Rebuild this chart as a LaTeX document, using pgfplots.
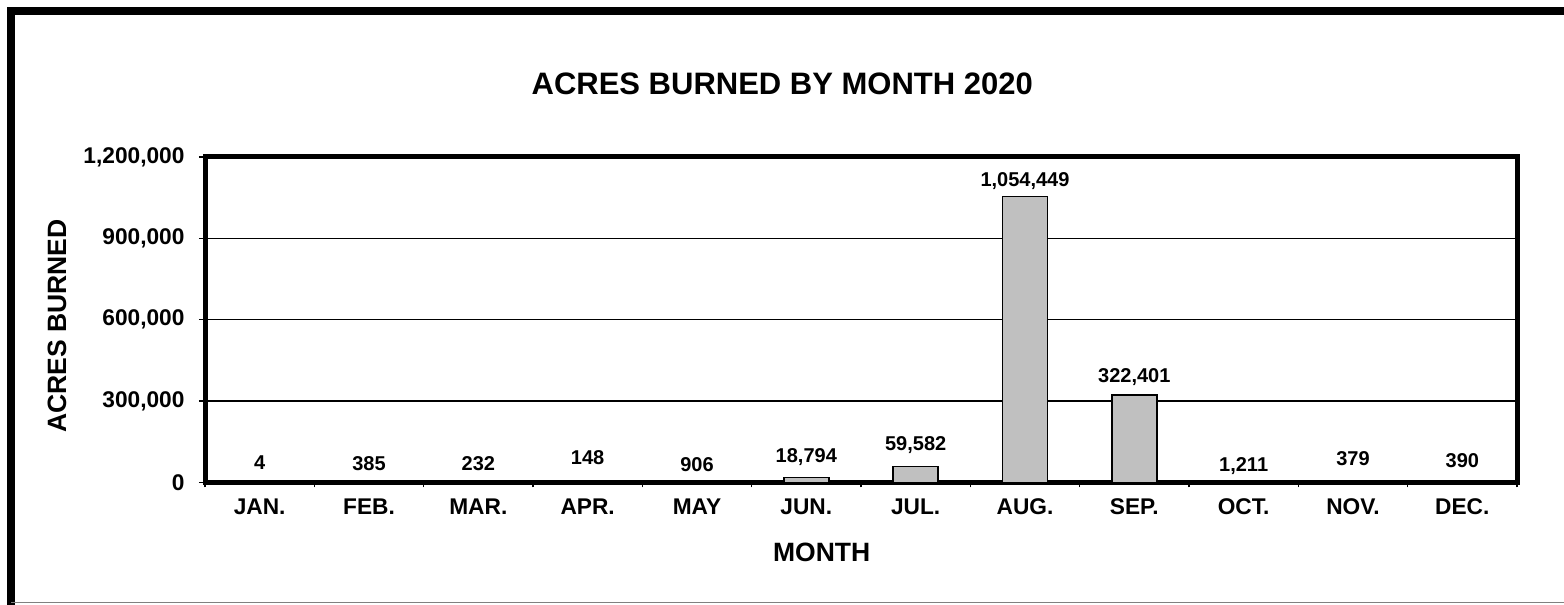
\documentclass[border=0pt]{standalone}
\usepackage{pgfplots}
\usepackage{pgfplotstable}
\pgfplotsset{compat=1.18}
\usepackage{fontspec}
\setmainfont{Liberation Sans}
\definecolor{barfill}{RGB}{192,192,192}

\pgfplotstableread{
x y lab dy
1 4 4 19.5
2 385 385 18.4
3 232 232 18.4
4 148 148 24.5
5 906 906 17.3
6 18794 18,794 20.4
7 59582 59,582 21.3
8 1054449 1,054,449 15.8
9 322401 322,401 18
10 1211 1,211 16.2
11 379 379 23.4
12 390 390 21.4
}\acres

\begin{document}
\begin{tikzpicture}
\useasboundingbox (0pt,0pt) rectangle (1564pt,605pt);
\draw[line width=8pt, line join=miter] (11pt,-5pt) -- (11pt,594pt) -- (1575pt,594pt);
\draw[gray, line width=1pt] (11pt,2pt) -- (1564pt,2pt);
\begin{axis}[
  at={(205pt,122.5pt)}, anchor=south west,
  scale only axis,
  width=1312pt, height=325.5pt,
  xmin=0.5, xmax=12.5,
  ymin=0, ymax=1200000,
  ybar, bar width=45pt,
  clip=false,
  xtick=data,
  xticklabels={JAN.,FEB.,MAR.,APR.,MAY,JUN.,JUL.,AUG.,SEP.,OCT.,NOV.,DEC.},
  minor xtick={0.5,1.5,...,12.5},
  major x tick style={draw=none},
  minor x tick style={black, line width=1.5pt},
  minor tick length=5pt,
  ytick={0,300000,600000,900000,1200000},
  major y tick style={black, line width=1.5pt},
  major tick length=6pt,
  tick align=outside,
  xtick pos=bottom, ytick pos=left,
  scaled y ticks=false,
  yticklabel style={xshift=-11pt, /pgf/number format/.cd, fixed, 1000 sep={,}, assume math mode=true},
  xticklabel style={yshift=-7pt},
  ticklabel style={font=\fontsize{22.7}{27}\selectfont\bfseries},
  ymajorgrids,
  major grid style={black, line width=1.5pt},
  axis line style={line width=5pt, line join=miter},
  title={ACRES BURNED BY MONTH 2020},
  title style={font=\fontsize{31}{36}\selectfont\bfseries, at={(axis description cs:0.44,1.2059)}, anchor=center},
  xlabel={MONTH},
  xlabel style={font=\fontsize{26.5}{30}\selectfont\bfseries, at={(axis description cs:0.470,-0.2135)}, anchor=center},
  ylabel={ACRES BURNED},
  ylabel style={font=\fontsize{26.5}{30}\selectfont\bfseries, at={(axis description cs:-0.1128,0.481)}, anchor=center, rotate=0},
  nodes near coords,
  point meta=explicit symbolic,
  visualization depends on={\thisrow{dy} \as \labdy},
  every node near coord/.append style={font=\fontsize{20}{24}\selectfont\bfseries, anchor=center, yshift=\labdy pt},
]
\addplot[fill=barfill, draw=black, line width=1.5pt] table[x=x, y=y, meta=lab] {\acres};
\end{axis}
\end{tikzpicture}
\end{document}
